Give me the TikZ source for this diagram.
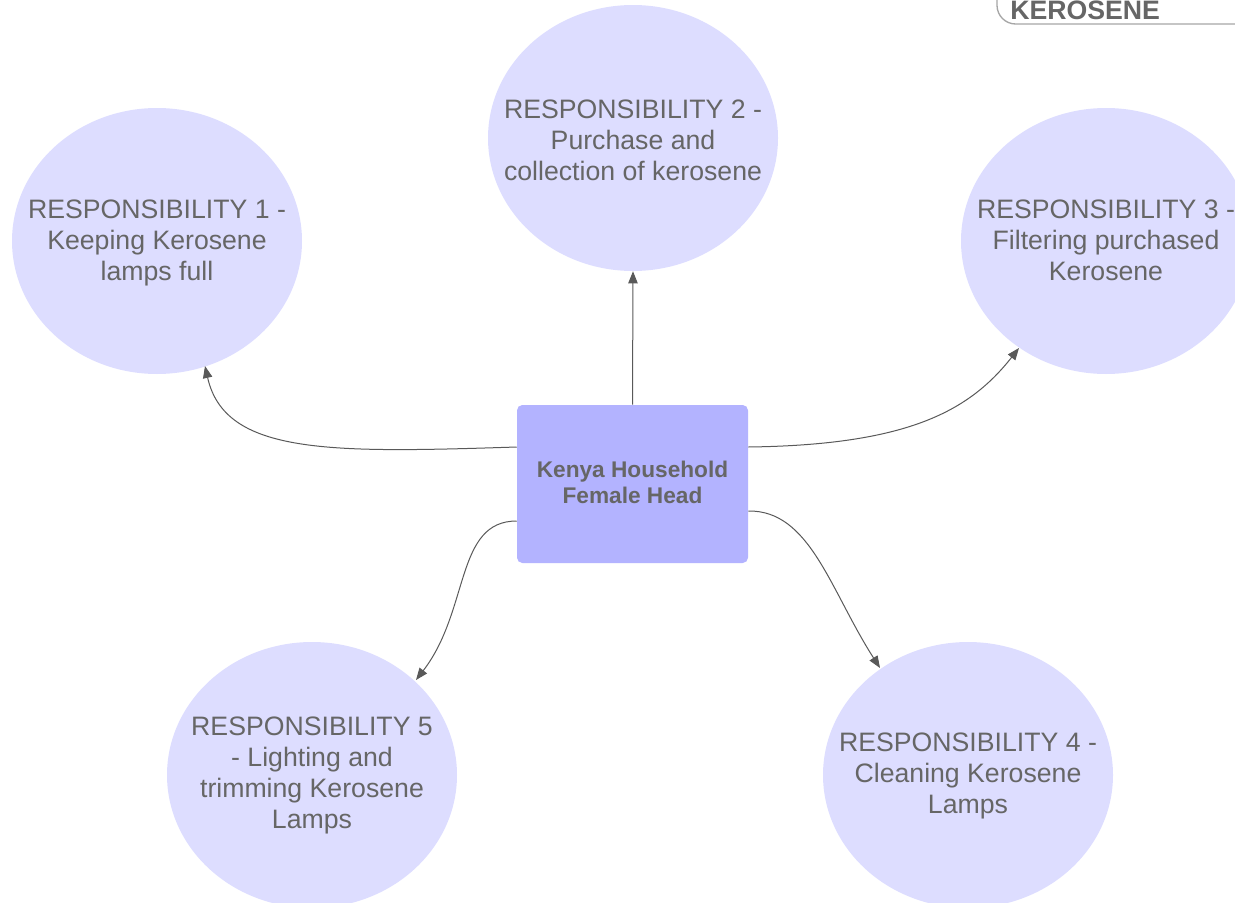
\documentclass[tikz,border=0pt]{standalone}
\usepackage{fontspec}
\setmainfont{Liberation Sans}
\usetikzlibrary{arrows.meta,shapes.geometric}
\definecolor{ellfill}{HTML}{DDDDFF}
\definecolor{boxfill}{HTML}{B3B3FF}
\definecolor{txt}{HTML}{666666}
\definecolor{linec}{HTML}{595959}
\tikzset{
  resp/.style={ellipse, fill=ellfill, draw=none, minimum width=290*0.75pt, minimum height=266*0.75pt, inner sep=0pt},
  resptext/.style={text=txt, align=center, font=\fontsize{20}{23.25}\selectfont},
  headbox/.style={rectangle, rounded corners=4pt, fill=boxfill, draw=none, minimum width=231*0.75pt, minimum height=158*0.75pt, inner sep=0pt},
  conn/.style={draw=linec, line width=0.75pt, -{Triangle[length=9pt,width=7pt]}},
}
\begin{document}
\begin{tikzpicture}[x=0.75pt,y=-0.75pt]
\useasboundingbox (0,0) rectangle (1235,903);
\begin{scope}
\clip (0,0) rectangle (1235,903);
% top-right partial node
\draw[draw=black!35, line width=1pt, fill=white, rounded corners=14pt] (997,-40) -- (997,24) -- (1260,24);
\node[anchor=base west, text=txt, font=\bfseries\fontsize{20}{22}\selectfont, inner sep=0pt] (kero) at (1010,19) {KEROSENE};
% ellipses
\node[resp] (e1) at (157,241) {};
\node[resp] (e2) at (633,138) {};
\node[resp] (e3) at (1106,241) {};
\node[resp] (e5) at (312,775) {};
\node[resp] (e4) at (968,775) {};
\node[resptext] (t1) at (157,242.5) {RESPONSIBILITY 1 -\\Keeping Kerosene\\lamps full};
\node[resptext] (t2) at (633,140.5) {RESPONSIBILITY 2 -\\Purchase and\\collection of kerosene};
\node[resptext] (t3) at (1106,240.5) {RESPONSIBILITY 3 -\\Filtering purchased\\Kerosene};
\node[resptext] (t5) at (312,775.5) {RESPONSIBILITY 5\\- Lighting and\\trimming Kerosene\\Lamps};
\node[resptext] (t4) at (968,775.5) {RESPONSIBILITY 4 -\\Cleaning Kerosene\\Lamps};
% central box
\node[headbox] (head) at (632.5,484) {};
\node[text=txt, align=center, font=\bfseries\fontsize{17}{19.5}\selectfont] (headt) at (632.5,482) {Kenya Household\\Female Head};
% connectors
\coordinate (a1) at (205,366);
\coordinate (a3) at (1019,348);
\coordinate (a5) at (416,680);
\coordinate (a4) at (880,668);
\draw[conn] (head.north) -- (e2.south);
\draw[conn] ([yshift=37*0.75pt]head.west) .. controls (330,453) and (225,455) .. (a1);
\draw[conn] ([yshift=37*0.75pt]head.east) .. controls (910,445) and (970,410) .. (a3);
\draw[conn] ([yshift=-37*0.75pt]head.west) .. controls (455,521) and (470,610) .. (a5);
\draw[conn] ([yshift=-27*0.75pt]head.east) .. controls (810,510) and (830,590) .. (a4);
\end{scope}
\end{tikzpicture}
\end{document}
